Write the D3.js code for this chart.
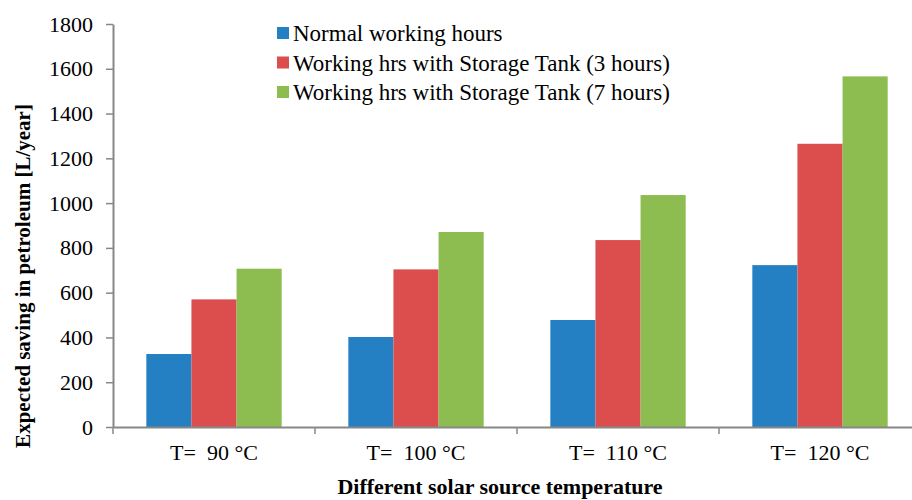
<!DOCTYPE html>
<html>
<head>
<meta charset="utf-8">
<script src="https://cdn.jsdelivr.net/npm/d3@7"></script>
<style>
  body { margin: 0; background: #fff; }
  text { font-family: "Liberation Serif", "Times New Roman", serif; fill: #000; }
</style>
</head>
<body>
<script>
var categories = ["T=  90 °C", "T=  100 °C", "T=  110 °C", "T=  120 °C"];
var seriesNames = ["Normal working hours",
                   "Working hrs with Storage Tank (3 hours)",
                   "Working hrs with Storage Tank (7 hours)"];
var normalHours = [326, 402, 478, 723];
var tank3Hours  = [570, 704, 835, 1265];
var tank7Hours  = [707, 871, 1036, 1566];
var yTicks = [0, 200, 400, 600, 800, 1000, 1200, 1400, 1600, 1800];
var colors = ["#2480c2", "#dc4e4e", "#8dbd50"];

var width  = 912;
var height = 500;
var plotLeft = 113, plotRight = 921, plotTop = 24, plotBottom = 427;
var axisColor = "#878787";

var series = [normalHours, tank3Hours, tank7Hours];
var rows = categories.map(function (c, i) {
    return { cat: c, values: series.map(function (s, j) { return { key: j, value: s[i] }; }) };
});

var svg = d3.select("body").append("svg")
    .attr("width", width)
    .attr("height", height);

var x0 = d3.scaleBand()
    .domain(categories)
    .range([plotLeft, plotRight])
    .paddingInner(0.33)
    .paddingOuter(0.165);

var x1 = d3.scaleBand()
    .domain([0, 1, 2])
    .range([0, x0.bandwidth()]);

var y = d3.scaleLinear()
    .domain([0, 1800])
    .range([plotBottom, plotTop]);

// bars
svg.append("g")
    .selectAll("g")
    .data(rows)
    .enter()
    .append("g")
    .attr("transform", function (d) { return "translate(" + x0(d.cat) + ",0)"; })
    .selectAll("rect")
    .data(function (d) { return d.values; })
    .enter()
    .append("rect")
    .attr("x", function (d) { return x1(d.key); })
    .attr("y", function (d) { return y(d.value); })
    .attr("width", x1.bandwidth())
    .attr("height", function (d) { return plotBottom - y(d.value); })
    .attr("fill", function (d) { return colors[d.key]; });

// y axis
var yAxis = svg.append("g")
    .attr("transform", "translate(" + plotLeft + ",0)")
    .call(d3.axisLeft(y).tickValues(yTicks).tickFormat(d3.format("d"))
        .tickSize(7).tickPadding(13).tickSizeOuter(0));
yAxis.select(".domain").attr("stroke", axisColor).attr("stroke-width", 2);
yAxis.selectAll(".tick line").attr("stroke", axisColor).attr("stroke-width", 1.5);
yAxis.selectAll(".tick text")
    .style("font-family", "'Liberation Serif', serif")
    .style("font-size", "22px")
    .attr("fill", "#000");

// x axis
var xAxis = svg.append("g")
    .attr("transform", "translate(0," + plotBottom + ")")
    .call(d3.axisBottom(x0).tickSize(0).tickPadding(17).tickSizeOuter(0));
xAxis.select(".domain").attr("stroke", axisColor).attr("stroke-width", 2);
xAxis.selectAll(".tick text")
    .style("font-family", "'Liberation Serif', serif")
    .style("font-size", "22px")
    .style("white-space", "pre")
    .attr("fill", "#000");

// category boundary ticks
var bounds = categories.map(function (c, i) { return plotLeft + i * x0.step(); });
svg.append("g")
    .selectAll("line")
    .data(bounds)
    .enter()
    .append("line")
    .attr("x1", function (d) { return d; })
    .attr("x2", function (d) { return d; })
    .attr("y1", plotBottom)
    .attr("y2", plotBottom + 7)
    .attr("stroke", axisColor)
    .attr("stroke-width", 1.5);

// axis titles
svg.append("text")
    .attr("x", 500)
    .attr("y", 494)
    .attr("text-anchor", "middle")
    .style("font-size", "22px")
    .style("font-weight", "bold")
    .text("Different solar source temperature");

svg.append("text")
    .attr("transform", "translate(30,276) rotate(-90)")
    .attr("text-anchor", "middle")
    .style("font-size", "21px")
    .style("font-weight", "bold")
    .text("Expected  saving in petroleum [L/year]");

// legend
var legend = svg.append("g")
    .attr("transform", "translate(277,33)")
    .selectAll("g")
    .data(seriesNames)
    .enter()
    .append("g")
    .attr("transform", function (d, i) { return "translate(0," + i * 29.5 + ")"; });

legend.append("rect")
    .attr("x", 0)
    .attr("y", -6)
    .attr("width", 12)
    .attr("height", 12)
    .attr("fill", function (d, i) { return colors[i]; });

legend.append("text")
    .attr("x", 16)
    .attr("y", 0)
    .attr("dy", "0.35em")
    .style("font-size", "23px")
    .text(function (d) { return d; });
</script>
</body>
</html>
